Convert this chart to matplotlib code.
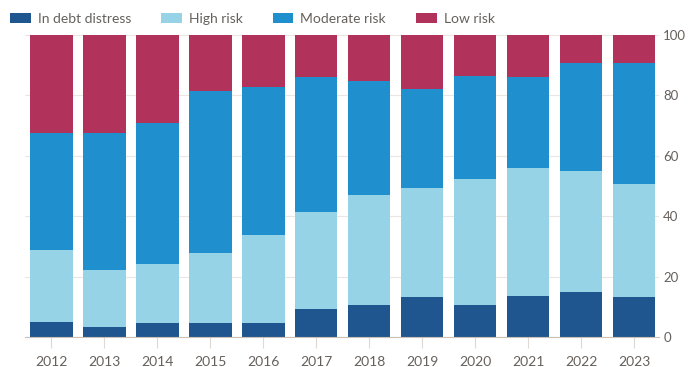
import numpy as np
import matplotlib.pyplot as plt

years = ["2012", "2013", "2014", "2015", "2016", "2017",
         "2018", "2019", "2020", "2021", "2022", "2023"]

# share of countries by risk rating (%)
in_debt_distress = [5.1, 3.4, 4.7, 4.5, 4.5, 9.2, 10.6, 13.3, 10.5, 13.7, 14.9, 13.3]
high_risk = [23.7, 18.7, 19.4, 23.2, 29.2, 32.1, 36.4, 35.9, 41.8, 42.3, 40.2, 37.3]
moderate_risk = [38.8, 45.5, 46.8, 53.8, 49.2, 44.7, 37.8, 32.8, 34.2, 30.1, 35.7, 40.2]
low_risk = [32.4, 32.4, 29.1, 18.5, 17.1, 14.0, 15.2, 18.0, 13.5, 13.9, 9.2, 9.2]

series = [
    ("In debt distress", in_debt_distress, "#20568f"),
    ("High risk", high_risk, "#96d3e6"),
    ("Moderate risk", moderate_risk, "#1f8fcd"),
    ("Low risk", low_risk, "#b1325b"),
]

plt.rcParams["font.family"] = ["Lato", "DejaVu Sans"]

fig = plt.figure(figsize=(6.88, 3.67), dpi=100)
ax = fig.add_axes([0.0363, 0.0817, 0.9215, 0.8229])

x = np.arange(len(years))
bottom = np.zeros(len(years))
handles = []
for name, vals, color in series:
    vals = np.array(vals)
    b = ax.bar(x, vals, 0.8, bottom=bottom, color=color, label=name, zorder=2)
    handles.append(b)
    bottom += vals

ax.set_xlim(-0.5, 11.47)
ax.set_ylim(0, 100)
ax.set_yticks([0, 20, 40, 60, 80, 100])
ax.yaxis.tick_right()
ax.tick_params(axis="y", length=0, pad=3, labelsize=9.5, labelcolor="#66605c")
ax.set_xticks(x)
ax.set_xticklabels(years)
ax.tick_params(axis="x", length=8, color="#e0d8d2", width=0.8, pad=6,
               labelsize=10, labelcolor="#66605c")
ax.grid(axis="y", color="#ece6e1", linewidth=0.8, zorder=0)
for s in ["top", "left", "right"]:
    ax.spines[s].set_visible(False)
ax.spines["bottom"].set_color("#ccc1b7")
ax.spines["bottom"].set_linewidth(0.8)

fig.legend(handles=handles, loc="upper left", bbox_to_anchor=(10 / 688, 1 - 13 / 367),
           ncol=4, frameon=False, fontsize=10, handlelength=1.5,
           handleheight=0.65, handletextpad=0.5, columnspacing=2.15,
           borderpad=0, borderaxespad=0, labelcolor="#66605c")

fig.savefig("out.png", dpi=100)
